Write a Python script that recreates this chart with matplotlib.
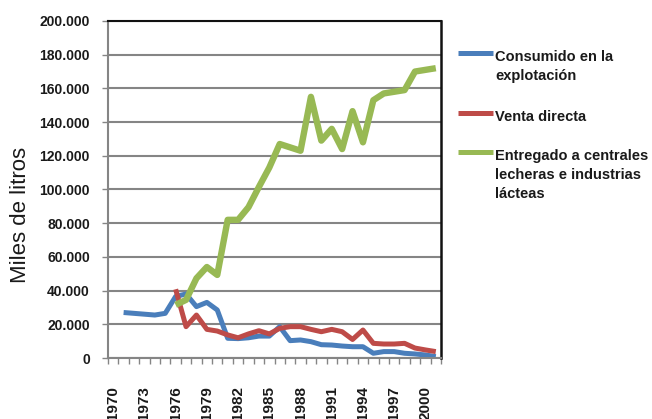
import numpy as np
from matplotlib import pyplot as plt
from matplotlib.lines import Line2D
from matplotlib.ticker import FuncFormatter

# ---------------------------------------------------------------
# data (miles de litros), 1970 - 2001
# ---------------------------------------------------------------
years = list(range(1970, 2002))
nan = np.nan

consumido = [nan, 27000, 26500, 26000, 25500, 26500, 36500, 38000, 30500, 33000,
             28500, 11700, 11500, 12000, 13000, 13000, 18600, 10300, 10700, 9700,
             7900, 7700, 7100, 6700, 6700, 2800, 3800, 3800, 2800, 2400,
             1800, 800]
venta = [nan, nan, nan, nan, nan, nan, 40800, 18600, 25500, 17000,
         16000, 13700, 12000, 14300, 16200, 14300, 17600, 18600, 18600, 17000,
         15600, 17000, 15600, 11000, 16600, 8700, 8300, 8300, 8700, 5900,
         4800, 3800]
entregado = [nan, nan, nan, nan, nan, nan, 31500, 34500, 47300, 54000,
             49300, 82000, 82000, 89500, 101500, 113000, 127000, 125000, 123000, 155000,
             129000, 136000, 124000, 146500, 128000, 153000, 157000, 158000, 159000, 170000,
             171000, 172000]

series_names = ["Consumido en la\nexplotación", "Venta directa",
                "Entregado a centrales\nlecheras e industrias\nlácteas"]
series_colors = ["#4A7EBB", "#BE4B48", "#98B954"]

W, H = 652, 419
plt.rcParams['font.family'] = ['Liberation Sans', 'DejaVu Sans']

fig = plt.figure(figsize=(W / 100, H / 100), dpi=100)
ax = fig.add_axes([108 / W, 1 - 358 / H, (441 - 108) / W, (358 - 21) / H])

x = np.arange(len(years))
ax.plot(x, consumido, color=series_colors[0], lw=3.6, solid_capstyle='butt')
ax.plot(x, venta, color=series_colors[1], lw=3.6, solid_capstyle='butt')
ax.plot(x, entregado, color=series_colors[2], lw=4.6, solid_capstyle='butt')

# axes, grid
ax.set_xlim(-0.5, len(years) - 0.5)
ax.set_ylim(0, 200000)
ax.set_yticks(np.arange(0, 200001, 20000))
ax.yaxis.set_major_formatter(FuncFormatter(lambda v, p: f"{int(v):,}".replace(",", ".")))
ax.grid(axis='y', color='#858585', lw=1.5)
ax.set_axisbelow(True)

ax.set_xticks(x[::3])
ax.set_xticklabels([str(y) for y in years[::3]], rotation=90)
ax.set_xticks(np.arange(-0.5, len(years)), minor=True)
ax.tick_params(axis='x', which='major', length=0, pad=20)
ax.tick_params(axis='x', which='minor', length=4, width=1, color='#858585',
               direction='out')
ax.tick_params(axis='y', length=4, width=1, color='#858585', pad=9)
for lab in ax.get_xticklabels():
    lab.set_fontweight('bold')
    lab.set_fontsize(11)
    lab.set_color('#1a1a1a')
for lab in ax.get_yticklabels():
    lab.set_fontweight('bold')
    lab.set_fontsize(10)
    lab.set_color('#1a1a1a')

ax.spines['left'].set_color('#858585')
ax.spines['left'].set_linewidth(1.5)
ax.spines['bottom'].set_color('#858585')
ax.spines['bottom'].set_linewidth(1.5)
ax.spines['top'].set_color('#111111')
ax.spines['top'].set_linewidth(1.5)
ax.spines['right'].set_color('#111111')
ax.spines['right'].set_linewidth(1.8)

fig.text(21 / W, 1 - 215 / H, "Miles de litros", rotation=90, fontsize=16,
         ha='center', va='center', color='#1a1a1a')

# legend drawn by hand: handle lines up with the first text line
legend_y = [53, 113, 152]
for name, col, ly in zip(series_names, series_colors, legend_y):
    fig.add_artist(Line2D([458 / W, 493 / W], [1 - ly / H, 1 - ly / H],
                          color=col, lw=3.6, solid_capstyle='butt'))
    fig.text(495 / W, 1 - (ly - 3) / H, name, fontsize=10.5, fontweight='bold',
             ha='left', va='top', linespacing=1.45, color='#1a1a1a')

fig.savefig("out.png", dpi=100)
